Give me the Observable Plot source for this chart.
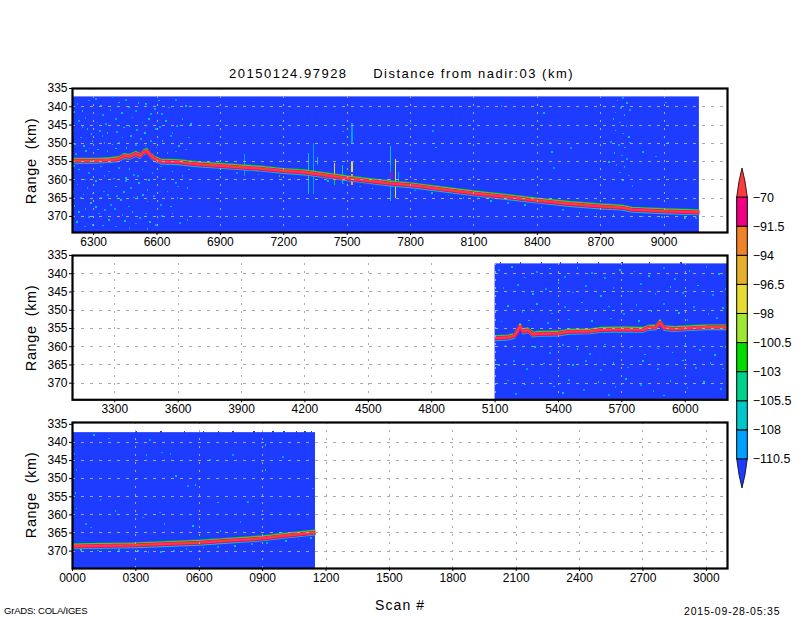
<!DOCTYPE html>
<html><head><meta charset="utf-8">
<script src="https://cdn.jsdelivr.net/npm/d3@7"></script>
<script src="https://cdn.jsdelivr.net/npm/@observablehq/plot@0.6"></script>
<style>
html,body{margin:0;background:#fff}
#c{position:relative;width:800px;height:618px;overflow:hidden;font-family:"Liberation Sans",sans-serif;color:#000}
#c svg{position:absolute;background:transparent;overflow:visible}
.t{position:absolute;white-space:pre;line-height:1}
</style></head><body><div id="c"></div>
<script>
// surface return, [scan, range km]
const surfaceA=[[6200,354.8],[6300,354.8],[6380,354.6],[6420,354.3],[6445,353.5],[6470,353.7],[6500,352.9],[6520,353.5],[6535,352.5],[6552,352.1],[6572,353.5],[6590,354.3],[6620,355],[6700,355.2],[6800,355.8],[6900,356.2],[7000,356.6],[7100,357],[7200,357.6],[7300,358],[7400,358.8],[7500,359.6],[7600,360.3],[7700,361],[7800,361.5],[7950,362.6],[8100,363.7],[8250,364.7],[8400,365.7],[8550,366.6],[8700,367.3],[8800,367.6],[8850,368.2],[9000,368.6],[9167,368.9]];
const surfaceB=[[5100,357.7],[5160,357.5],[5190,357.1],[5205,355.9],[5218,354.3],[5232,355.9],[5255,355.5],[5280,356.7],[5300,356.5],[5400,356.4],[5450,355.9],[5550,355.8],[5600,355.4],[5700,355.3],[5800,355.4],[5830,354.8],[5862,354.7],[5880,353.3],[5900,354.9],[5950,355.2],[6000,355],[6100,354.7],[6200,354.7]];
const surfaceC=[[0,368.7],[300,368.4],[600,367.7],[700,367.3],[900,366.5],[1000,365.8],[1100,365.2],[1150,364.9]];
// isolated returns, [scan, range km]
const specklesA=[[6224,339.2],[6247,341.1],[6279,338.3],[6310,337.9],[6334,339.7],[6389,337.4],[6421,338.8],[6452,338.1],[6500,341.1],[6547,339.2],[6571,342],[6610,338.3],[6657,340.2],[6689,338.1],[6736,339.7],[6232,343.8],[6271,346.1],[6318,344.3],[6358,344.8],[6366,347.1],[6405,343.4],[6445,345.7],[6484,342.9],[6531,344.3],[6563,343.4],[6594,346.1],[6642,343.8],[6673,347.1],[6721,343.4],[6760,344.8],[6239,348.4],[6255,350.7],[6295,349.4],[6342,348],[6389,350.3],[6437,348.4],[6476,348],[6523,348.9],[6571,349.4],[6626,349.4],[6665,348],[6705,350.7],[6752,348.4],[6216,353],[6263,352.1],[6366,352.1],[6405,351.4],[6650,352.6],[6736,351.7],[6232,357.2],[6279,358.1],[6334,356.3],[6374,357.7],[6421,356.7],[6452,359.5],[6492,358.6],[6531,357.2],[6579,358.1],[6618,356.3],[6673,357.7],[6721,359],[6752,357.2],[6224,361.3],[6271,362.3],[6310,360.4],[6350,363.2],[6405,361.8],[6452,360.4],[6476,362.3],[6515,360.9],[6555,362.7],[6602,361.3],[6650,363.2],[6689,360.9],[6744,362.3],[6239,365],[6287,366.4],[6334,365],[6381,366.9],[6429,365.5],[6468,367.3],[6508,364.6],[6555,365.9],[6618,366.9],[6665,367.3],[6697,365],[6232,368.7],[6279,370.1],[6326,369.2],[6374,371],[6437,369.6],[6484,368.7],[6547,369.2],[6594,372.4],[6673,369.2],[6744,371],[6295,372.4],[6405,372.8],[6500,371.9],
[6208,341.4],[6262,343],[6300,341.6],[6345,342.3],[6380,340.8],[6435,341.7],[6468,340.1],[6512,338.9],[6590,340.6],[6625,341.9],[6205,346.7],[6248,345.6],[6290,347.4],[6330,346.6],[6412,346.9],[6470,345.3],[6505,346.4],[6542,347.1],[6615,345.6],[6695,345.3],[6212,350.2],[6280,351.4],[6322,351.7],[6352,350],[6420,349.8],[6455,351.2],[6500,350.4],[6545,350.6],[6598,351.1],[6690,352.2],[6208,356.2],[6258,359.9],[6300,359.3],[6352,359],[6395,359.6],[6470,357.1],[6510,358.9],[6562,360.1],[6640,359.8],[6700,361.8],[6205,363.4],[6252,364],[6295,363.7],[6368,364.2],[6412,364.4],[6445,363.3],[6492,364.8],[6535,364.1],[6585,364.5],[6632,365.1],[6210,367.1],[6262,367.9],[6310,367.4],[6355,368.3],[6400,368],[6450,371.2],[6520,370.4],[6568,371.6],[6625,369.8],[6710,371.8],[6222,371.6],[6260,372.8],[6345,372.5],[6470,373.2],[6555,373.5],
[8780,338.3],[8805,337.6],[8825,339],[8795,340.4],[8770,341.6],[8812,342.2],[8838,340.8],[8760,343.4],[8790,344.3],[8822,345.2],[8770,346.5],[8806,347.3],[8835,348.2],[8750,349.6],[8785,350.4],[8815,351.1],[8840,349.8],[8765,352.6],[8800,353.3],[8825,354.2],[8740,355.1],[8775,355.9],[8812,356.5],[8790,358],[8835,358.8],[8805,360.1],[8850,361.7],[8900,352.4],[8960,353.6],
[7480,346.8],[7800,344.6],[7905,346.6],[7920,351.1],[8150,340.5],[8230,339.7],[8430,341.7],[8460,349.8],[8470,352.3],[8480,356.8],[8560,351.2],[9010,338.8],[9020,350],
[6900,358],[6980,358.2],[7080,358.5],[7180,358.9],[7250,359.6],[7410,360.4],[7480,361],[7560,361.8],[7620,362.4],[7820,362.9],[7900,363.5],[7980,364.3],[8050,365],[8180,365.7],[8260,366.4],[8340,366.9],[8420,367.5],[8520,368.2],[8600,369],[8680,369.3],[8760,369.7],[8900,370],[8990,370.2],[9100,370.4],[9150,370.4]];
const specklesB=[[5120,339],[5180,338.2],[5240,341],[5300,339.5],[5360,338.6],[5430,340.8],[5490,338.4],[5560,339.8],[5620,341.2],[5690,338.9],[5760,339.4],[5830,340.6],[5900,338.5],[5950,341.5],[6020,339.3],[6100,338.2],[6160,340.1],[5140,344],[5210,343],[5280,345.6],[5340,344.2],[5400,342.6],[5470,345.1],[5530,343.4],[5600,346.1],[5660,343.9],[5730,344.9],[5790,342.9],[5860,345.6],[5930,343.6],[5990,345.2],[6060,343.2],[6130,345.9],[6190,344.2],[5160,348.8],[5230,350.4],[5300,348.2],[5370,350.9],[5430,349.1],[5510,347.9],[5570,350.2],[5640,349],[5710,351.1],[5770,348.6],[5840,350.2],[5900,348.3],[5970,350.8],[6040,349.1],[6110,351],[6180,349.3],[5130,353.1],[5260,352.8],[5350,353.5],[5450,352.5],[5560,353],[5650,352.3],[5780,352.9],[6010,352.6],[6150,352.2],[5150,359.8],[5220,361],[5290,360],[5360,361.8],[5420,359.6],[5490,360.6],[5550,362],[5620,359.4],[5680,361.3],[5740,360.2],[5810,362.1],[5870,360.5],[5940,361.6],[6000,359.7],[6070,360.9],[6140,362.3],[6190,360],[5120,365],[5190,364],[5250,366.1],[5330,364.6],[5400,366.5],[5470,365],[5530,363.9],[5600,366.3],[5660,364.4],[5730,365.7],[5800,364],[5870,366.2],[5920,364.9],[5990,363.8],[6050,365.8],[6120,364.4],[6180,366],[5160,369.3],[5240,370.4],[5310,368.6],[5380,370.9],[5450,369.1],[5520,371.8],[5590,369.7],[5670,371],[5720,368.9],[5790,370.5],[5850,372.1],[5930,369.4],[6010,371.3],[6090,369.6],[6170,371.6],[5200,373],[5420,372.6],[5640,373.2],[5900,373.4]];
const specklesC=[[9,343.2],[101,338],[172,338.9],[19,347.6],[14,354],[132,355.8],[19,358.2],[63,362.5],[88,363.5],[203,359],[366,339.3],[350,343.5],[424,342.8],[464,343.2],[491,349.2],[546,352],[582,351.7],[435,362.5],[413,359.3],[571,363],[650,344.9],[688,356.6],[759,343.5],[830,356.4],[913,340.7],[997,344.1],[913,347.6],[1139,352.7],[795,361.9],[700,364.4],[334,360.7],[40,369.7],[120,369.8],[220,369.6],[310,370],[360,370.2],[420,370.3],[480,369.9],[540,369.4],[620,369],[690,368.9],[770,368.6],[850,368],[920,367.7],[1010,367.2],[1070,366.8],[1130,366.3]];
// small upward notches along the top of the sampled block
const notchesB=[5125,5220,5320,5410,5490,5590,5700,5830,5980];
const notchesC=[300,420,530,620,690,760,860,900,950,1000,1060,1100,1130];
// vertical streaks: scan, range from, range to, colour index
const streakScans=[7013,7318,7341,7358,7441,7441,7476,7523,7523,7523,7705,7705,7705,7729,7743];
const streakFrom=[353,352.7,350,354,355.5,358.5,356,344.5,355,358.5,351,356,358,354.5,358];
const streakTo=[359,364,364,356,361,361.5,361,350,358,361.5,366,363,360,365,361];
const streakTone=[1,2,1,2,3,4,2,1,3,5,2,1,6,3,1];
// sampled coverage, [scan from, scan to, range from]
const coverageA=[6200,9167,337.3],coverageB=[5100,6200,337.3],coverageC=[0,1150,337.3];
const rangeTicks=[335,340,345,350,355,360,365,370];
const scanA=[6300,6600,6900,7200,7500,7800,8100,8400,8700,9000];
const scanB=[3300,3600,3900,4200,4500,4800,5100,5400,5700,6000];
const scanC=[0,300,600,900,1200,1500,1800,2100,2400,2700,3000];
const levels=["-110.5","-108","-105.5","-103","-100.5","-98","-96.5","-94","-91.5","-70"].map(s=>s.replace("-","\u2212"));
const bandColors=["#00a0ff","#00c8c8","#00d28c","#00dc00","#a0e632","#e6dc32","#e6af2d","#f08228","#f00082"];
const tipLow="#1e3cff",tipHigh="#fa3c3c";
const tones=["#1e3cff","#00a0ff","#00c8c8","#e6dc32","#00dc00","#e6af2d","#f00082"];

const c=document.getElementById("c");
function txt(s,x,y,size,extra){const d=document.createElement("div");d.className="t";d.textContent=s;
 d.style.cssText+=`left:${x}px;top:${y}px;font-size:${size}px;`+(extra||"");c.appendChild(d);return d;}

function panel(o){
 const pad=10,h=o.bottom-o.top;
 const shift=r=>o.surface.map(([s,v])=>({s,v:v+r}));
 const sp=o.speckles.map(([s,v],i)=>({s,v,k:tones[[1,2,1,1,2][i%5]]}));
 const marks=[
  Plot.rect([o.cover],{x1:d=>d[0],x2:d=>d[1],y1:d=>d[2],y2:()=>o.y[1],fill:tipLow}),
  Plot.dot(o.notches||[],{x:d=>d,y:()=>337.1,r:0.85,symbol:"square",fill:tipLow,shapeRendering:"crispEdges"}),
  Plot.dot(sp,{x:"s",y:"v",r:0.95,symbol:"square",fill:"k",shapeRendering:"crispEdges"}),
 ];
 if(o.streaks) marks.push(Plot.ruleX(o.streaks,{x:"s",y1:"a",y2:"b",stroke:"k",strokeWidth:1.1,shapeRendering:"crispEdges"}));
 const line=(r,col,w)=>Plot.line(shift(r),{x:"s",y:"v",stroke:col,strokeWidth:w,strokeLinejoin:"miter",strokeLinecap:"butt"});
 marks.push(line(0.6,"#00c8c8",1.4),line(-0.7,"#00dc00",1.3),line(-0.5,"#a0e632",1),line(0,"#f00082",4),line(-0.05,"#fa3c3c",2.4));
 marks.push(
  Plot.ruleX(o.ticks,{x:d=>d,stroke:"#aaa",strokeWidth:1,strokeDasharray:"2,6",shapeRendering:"crispEdges"}),
  Plot.ruleY(rangeTicks.slice(1),{y:d=>d,stroke:"#aaa",strokeWidth:1,strokeDasharray:"3,6",shapeRendering:"crispEdges"}),
  Plot.axisX({ticks:o.ticks,tickFormat:o.fmt,tickSize:3,tickPadding:2,label:null,fontSize:12,fontFamily:"Liberation Sans"}),
  Plot.axisY({ticks:rangeTicks,tickSize:3,tickPadding:2,label:null,fontSize:12,fontFamily:"Liberation Sans"}),
  Plot.frame({stroke:"#000",strokeWidth:2.2})
 );
 const svg=Plot.plot({width:800,height:h+pad+24,marginLeft:72,marginRight:73,marginTop:pad,marginBottom:24,
  x:{domain:o.x,label:null},y:{domain:o.y,reverse:true,label:null},
  style:{background:"transparent",fontFamily:"Liberation Sans"},marks});
 svg.style.left="0px";svg.style.top=(o.top-pad)+"px";c.appendChild(svg);
 txt("Range  (km)",31,o.mid,14.5,"letter-spacing:.6px;transform:translate(-50%,-50%) rotate(-90deg);");
}
const f4=d3.format("04d");
panel({top:88.3,bottom:232.3,mid:160.5,x:[6200,9300],y:[335,374.4],ticks:scanA,fmt:d3.format("d"),surface:surfaceA,speckles:specklesA,cover:coverageA,
 streaks:streakScans.map((s,i)=>({s,a:streakFrom[i],b:streakTo[i],k:tones[streakTone[i]]}))});
panel({top:255,bottom:399.3,mid:328,x:[3100,6200],y:[335,374.55],ticks:scanB,fmt:d3.format("d"),surface:surfaceB,speckles:specklesB,cover:coverageB,notches:notchesB});
panel({top:421.7,bottom:567.7,mid:495,x:[0,3100],y:[334.5,374.8],ticks:scanC,fmt:f4,surface:surfaceC,speckles:specklesC,cover:coverageC,notches:notchesC});

// colour bar
const bands=bandColors.map((col,i)=>({a:i,b:i+1,col}));
const tipUp=[{v:9,l:0,r:1},{v:9.55,l:0.22,r:0.78},{v:10,l:0.5,r:0.5}];
const tipDown=[{v:0,l:0,r:1},{v:-0.55,l:0.22,r:0.78},{v:-1,l:0.5,r:0.5}];
const bar=Plot.plot({width:80,height:340,marginTop:8,marginBottom:12,marginLeft:16.7,marginRight:52.7,
 x:{domain:[0,1],axis:null},y:{domain:[-1,10],axis:null},
 style:{background:"transparent",overflow:"visible"},
 marks:[
  Plot.area(tipUp,{x1:"l",x2:"r",y1:"v",fill:tipHigh,stroke:"#000",strokeWidth:0.8}),
  Plot.area(tipDown,{x1:"l",x2:"r",y1:"v",fill:tipLow,stroke:"#000",strokeWidth:0.8}),
  Plot.rect(bands,{x1:()=>0,x2:()=>1,y1:"a",y2:"b",fill:"col",stroke:"#000",strokeWidth:1}),
  Plot.text(levels,{x:()=>1,y:(d,i)=>i,text:d=>d,textAnchor:"start",dx:5,fontSize:12.5,fontFamily:"Liberation Sans",fill:"#000"})
 ]});
bar.style.left="720px";bar.style.top="160px";c.appendChild(bar);

txt("20150124.97928     Distance from nadir:03 (km)",229,67,13,"letter-spacing:1.5px;");
txt("Scan #",375,598,14,"letter-spacing:1.1px;");
txt("GrADS: COLA/IGES",4,606,9.5,"letter-spacing:-.2px;");
txt("2015-09-28-05:35",684,606,10.5,"letter-spacing:.8px;");
</script></body></html>
